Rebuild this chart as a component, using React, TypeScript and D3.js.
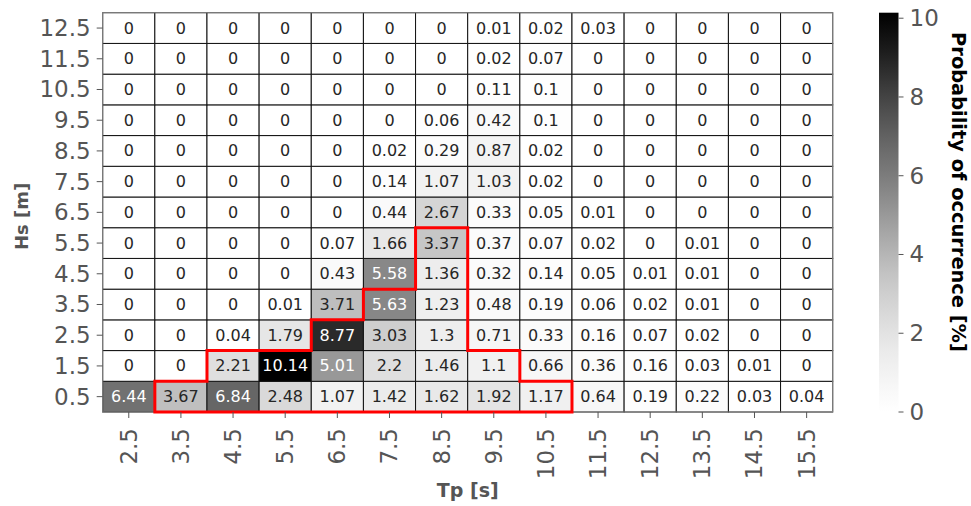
import React from "react";
import * as d3 from "d3";

const tpLabels = ["2.5","3.5","4.5","5.5","6.5","7.5","8.5","9.5","10.5","11.5","12.5","13.5","14.5","15.5"];
const hsLabels = ["0.5","1.5","2.5","3.5","4.5","5.5","6.5","7.5","8.5","9.5","10.5","11.5","12.5"];

// rows from Hs 0.5 (bottom) to 12.5 (top)
const row05 = [6.44,3.67,6.84,2.48,1.07,1.42,1.62,1.92,1.17,0.64,0.19,0.22,0.03,0.04];
const row15 = [0,0,2.21,10.14,5.01,2.2,1.46,1.1,0.66,0.36,0.16,0.03,0.01,0];
const row25 = [0,0,0.04,1.79,8.77,3.03,1.3,0.71,0.33,0.16,0.07,0.02,0,0];
const row35 = [0,0,0,0.01,3.71,5.63,1.23,0.48,0.19,0.06,0.02,0.01,0,0];
const row45 = [0,0,0,0,0.43,5.58,1.36,0.32,0.14,0.05,0.01,0.01,0,0];
const row55 = [0,0,0,0,0.07,1.66,3.37,0.37,0.07,0.02,0,0.01,0,0];
const row65 = [0,0,0,0,0,0.44,2.67,0.33,0.05,0.01,0,0,0,0];
const row75 = [0,0,0,0,0,0.14,1.07,1.03,0.02,0,0,0,0,0];
const row85 = [0,0,0,0,0,0.02,0.29,0.87,0.02,0,0,0,0,0];
const row95 = [0,0,0,0,0,0,0.06,0.42,0.1,0,0,0,0,0];
const row105 = [0,0,0,0,0,0,0,0.11,0.1,0,0,0,0,0];
const row115 = [0,0,0,0,0,0,0,0.02,0.07,0,0,0,0,0];
const row125 = [0,0,0,0,0,0,0,0.01,0.02,0.03,0,0,0,0];
const rows = [row05,row15,row25,row35,row45,row55,row65,row75,row85,row95,row105,row115,row125];

// red outline vertices in (Tp, Hs) bin-edge units
const outlineTp = [3,3,4,4,6,6,7,7,8,8,9,9,10,10,11,11];
const outlineHs = [0,1,1,2,2,3,3,4,4,6,6,2,2,1,1,0];

const cbTicks = [0,2,4,6,8,10];
const vmax = 10.14;

const GX0 = 102.7, GX1 = 832.7, GY0 = 12.7, GY1 = 412;
const CBX0 = 879, CBX1 = 898.5;

export default function App() {
  const x = d3.scaleBand<string>().domain(tpLabels).range([GX0, GX1]).padding(0);
  const y = d3.scaleBand<string>().domain(hsLabels).range([GY1, GY0]).padding(0);
  const xe = d3.scaleLinear().domain([2, 16]).range([GX0, GX1]);
  const ye = d3.scaleLinear().domain([0, 13]).range([GY1, GY0]);
  const color = d3.scaleSequential(d3.interpolateGreys).domain([0, vmax]);
  const cb = d3.scaleLinear().domain([0, vmax]).range([GY1, GY0]);
  const bw = x.bandwidth();
  const bh = y.bandwidth();

  const textColor = (v: number) => {
    const c = d3.rgb(color(v));
    const lin = (u: number) => { const s = u / 255; return s <= 0.03928 ? s / 12.92 : Math.pow((s + 0.055) / 1.055, 2.4); };
    const lum = 0.2126 * lin(c.r) + 0.7152 * lin(c.g) + 0.0722 * lin(c.b);
    return lum > 0.408 ? "#262626" : "#ffffff";
  };

  const line = d3.line<number>()
    .x((_, i) => xe(outlineTp[i]))
    .y((_, i) => ye(outlineHs[i]));
  const outlinePath = line(outlineTp.map((_, i) => i)) + "Z";

  const stops = d3.range(0, 1.0001, 0.05);
  const font = "'DejaVu Sans', sans-serif";

  return (
    <svg width={971} height={506} style={{ position: "fixed", left: 0, top: 0, background: "#fff" }} fontFamily={font}>
      <defs>
        <linearGradient id="cbg" x1="0" y1="1" x2="0" y2="0">
          {stops.map((t) => (
            <stop key={t} offset={t} stopColor={d3.interpolateGreys(t)} />
          ))}
        </linearGradient>
      </defs>
      <rect x={0} y={0} width={971} height={506} fill="#fff" />
      {rows.map((r, ri) =>
        r.map((v, ci) => (
          <rect key={`c${ri}-${ci}`} x={x(tpLabels[ci])} y={y(hsLabels[ri])} width={bw} height={bh}
            fill={color(v)} stroke="#111" strokeWidth={1} />
        ))
      )}
      <rect x={GX0} y={GY0} width={GX1 - GX0} height={GY1 - GY0} fill="none" stroke="#888" strokeWidth={1} />
      {rows.map((r, ri) =>
        r.map((v, ci) => (
          <text key={`t${ri}-${ci}`} x={(x(tpLabels[ci]) as number) + bw / 2} y={(y(hsLabels[ri]) as number) + bh / 2}
            textAnchor="middle" dominantBaseline="central" fontSize={16} fill={textColor(v)}>
            {String(v)}
          </text>
        ))
      )}
      <path d={outlinePath} fill="none" stroke="#ff0000" strokeWidth={3} strokeLinejoin="miter" />
      {hsLabels.map((h) => {
        const yy = (y(h) as number) + bh / 2;
        return (
          <g key={`yt${h}`}>
            <line x1={GX0 - 6} x2={GX0} y1={yy} y2={yy} stroke="#555" strokeWidth={1} />
            <text x={GX0 - 12} y={yy} textAnchor="end" dominantBaseline="central" fontSize={23} fill="#555">{h}</text>
          </g>
        );
      })}
      {tpLabels.map((t) => {
        const xx = (x(t) as number) + bw / 2;
        return (
          <g key={`xt${t}`}>
            <line x1={xx} x2={xx} y1={GY1} y2={GY1 + 6} stroke="#555" strokeWidth={1} />
            <text transform={`translate(${xx},${GY1 + 16}) rotate(-90)`} textAnchor="end" dominantBaseline="central" fontSize={23} fill="#555">{t}</text>
          </g>
        );
      })}
      <text x={(GX0 + GX1) / 2} y={497} textAnchor="middle" fontSize={19} fontWeight="bold" fill="#555">Tp [s]</text>
      <text transform={`translate(28,${(GY0 + GY1) / 2 + 4}) rotate(-90)`} textAnchor="middle" fontSize={18} fontWeight="bold" fill="#555">Hs [m]</text>
      <rect x={CBX0} y={GY0} width={CBX1 - CBX0} height={GY1 - GY0} fill="url(#cbg)" />
      {cbTicks.map((t) => (
        <g key={`cb${t}`}>
          <line x1={CBX1} x2={CBX1 + 5} y1={cb(t)} y2={cb(t)} stroke="#555" strokeWidth={1} />
          <text x={CBX1 + 11} y={cb(t)} dominantBaseline="central" fontSize={23} fill="#555">{t}</text>
        </g>
      ))}
      <text transform={`translate(951.5,192) rotate(90)`} textAnchor="middle" fontSize={19.4} fontWeight="bold" fill="#000">Probability of occurrence [%]</text>
    </svg>
  );
}
